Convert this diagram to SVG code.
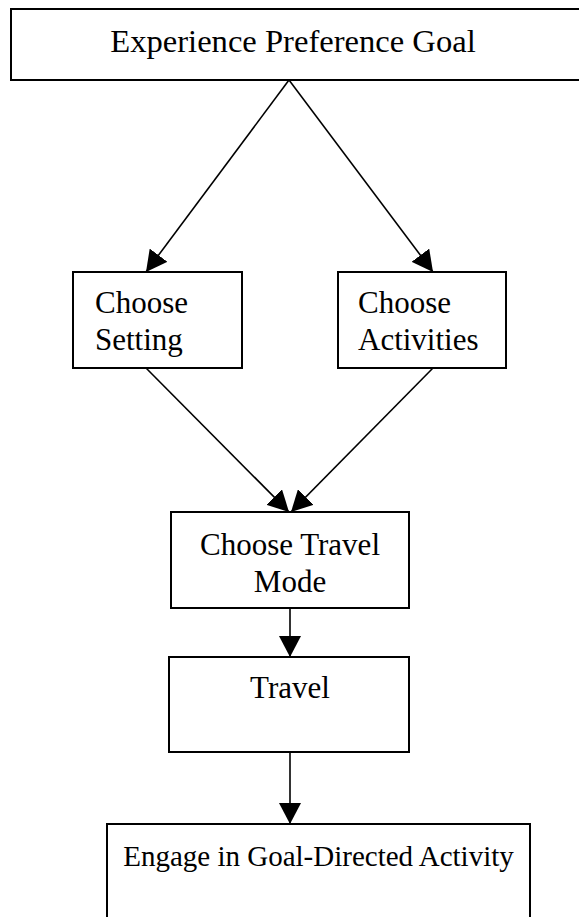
<svg xmlns="http://www.w3.org/2000/svg" width="579" height="917" viewBox="0 0 579 917">
<style>
.box{fill:#fff;stroke:#000;stroke-width:2}
.lbl{font-family:"Liberation Serif","Times New Roman",serif;font-size:31px;fill:#000}
.c{stroke:#000;stroke-width:1.6;fill:none}
</style>
<defs>
<marker id="ah" markerUnits="userSpaceOnUse" markerWidth="22" markerHeight="22" refX="21" refY="11" orient="auto" viewBox="0 0 22 22">
<path d="M0,0 L21,11 L0,22 z" fill="#000"/>
</marker>
</defs>
<rect width="579" height="917" fill="#fff"/>
<g id="connectors">
<line class="c" x1="289" y1="80" x2="146" y2="272" marker-end="url(#ah)"/>
<line class="c" x1="289" y1="80" x2="433" y2="272" marker-end="url(#ah)"/>
<line class="c" x1="146" y1="368" x2="289" y2="512" marker-end="url(#ah)"/>
<line class="c" x1="433" y1="368" x2="291" y2="512" marker-end="url(#ah)"/>
<line class="c" x1="290" y1="608" x2="290" y2="657" marker-end="url(#ah)"/>
<line class="c" x1="290" y1="752" x2="290" y2="824" marker-end="url(#ah)"/>
</g>
<g id="goal">
<rect class="box" x="11" y="9" width="580" height="71"/>
<text class="lbl" x="293" y="52" text-anchor="middle" style="font-size:32.6px">Experience Preference Goal</text>
</g>
<g id="setting">
<rect class="box" x="73" y="272" width="169" height="96"/>
<text class="lbl" x="95" y="313">Choose</text>
<text class="lbl" x="95" y="350">Setting</text>
</g>
<g id="activities">
<rect class="box" x="338" y="272" width="168" height="96"/>
<text class="lbl" x="358" y="313">Choose</text>
<text class="lbl" x="358" y="350">Activities</text>
</g>
<g id="mode">
<rect class="box" x="171" y="512" width="238" height="96"/>
<text class="lbl" x="290" y="555" text-anchor="middle">Choose Travel</text>
<text class="lbl" x="290" y="592" text-anchor="middle">Mode</text>
</g>
<g id="travel">
<rect class="box" x="169" y="657" width="240" height="95"/>
<text class="lbl" x="290" y="698" text-anchor="middle">Travel</text>
</g>
<g id="engage">
<rect class="box" x="107" y="824" width="423" height="100"/>
<text class="lbl" x="318.5" y="866" text-anchor="middle" style="font-size:29px">Engage in Goal-Directed Activity</text>
</g>
</svg>
